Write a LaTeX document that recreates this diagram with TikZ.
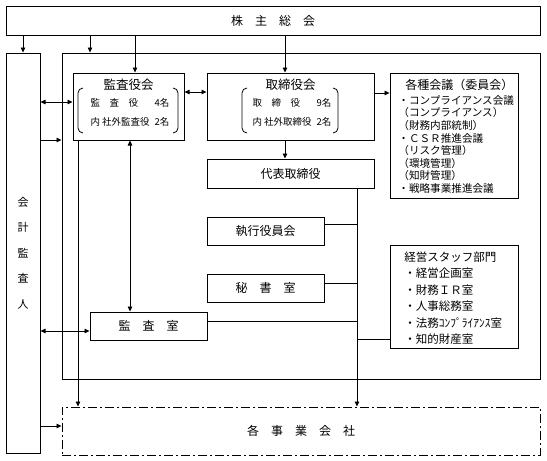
\documentclass[tikz,border=0pt]{standalone}
\usepackage{fontspec}
\setmainfont{Noto Sans CJK JP}
\usetikzlibrary{arrows.meta}
\newcommand{\kakko}[4]{%
  \draw[rounded corners=5pt] (#1+5,#3) -- (#1,#3) -- (#1,#4) -- (#1+5,#4);
  \draw[rounded corners=5pt] (#2-5,#3) -- (#2,#3) -- (#2,#4) -- (#2-5,#4);}
\begin{document}
\begin{tikzpicture}[x=1pt,y=-1pt,>={Triangle[length=5pt,width=4.5pt]},line width=0.8pt,
box/.style={draw,line width=1pt,inner sep=0pt,font=\fontsize{12}{14}\selectfont},
head/.style={inner sep=0pt,font=\fontsize{12.5}{15}\selectfont},
member/.style={inner sep=0pt,font=\fontsize{9.5}{19}\selectfont},
list/.style={inner sep=0pt,align=left,anchor=north west},
subsid/.style={dash pattern=on 9pt off 3pt on 2pt off 3pt}]
\useasboundingbox (0,0) rectangle (547,461);
\def\xtrunk{357};
\node[box,minimum width=534,minimum height=29] (kabunushi) at (273,20.5) {株　主　総　会};
\node[box,minimum width=34,minimum height=400,align=center,font=\fontsize{11}{25.5}\selectfont] (kaikei) at (23,253) {会\\計\\監\\査\\人};
\node[box,minimum width=478,minimum height=326] (group) at (301,216) {};
\node[box,minimum width=111,minimum height=67] (kansayaku) at (128.5,106.5) {};
\node[box,minimum width=167,minimum height=67] (torishimari) at (290.5,106.5) {};
\node[box,minimum width=128,minimum height=125] (kaigi) at (454,135.5) {};
\node[box,minimum width=167,minimum height=29] (daihyo) at (290.5,173.5) {代表取締役};
\node[box,minimum width=117,minimum height=28] (shikko) at (265.5,231) {執行役員会};
\node[box,minimum width=117,minimum height=28] (hisho) at (265.5,288) {秘　書　室};
\node[box,minimum width=117,minimum height=28] (kansashitsu) at (148.5,326) {監　査　室};
\node[box,minimum width=128,minimum height=103] (staff) at (454,296.5) {};
\node[box,subsid,minimum width=478,minimum height=48] (jigyo) at (301,431) {各　事　業　会　社};
\node[head] (kansayakuT) at (128.5,85) {監査役会};
\node[head] (torishimariT) at (290.5,85) {取締役会};
\node[member] (kansayakuM) at (130,112.5) {\begin{tabular}{@{}l@{\hspace{5pt}}r@{}}監　査　役 & 4名\\内 社外監査役 & 2名\end{tabular}};
\node[member] (torishimariM) at (292,112.5) {\begin{tabular}{@{}l@{\hspace{5pt}}r@{}}取　締　役 & 9名\\内 社外取締役 & 2名\end{tabular}};
\kakko{78}{178}{88}{133}
\kakko{242}{338}{88}{133}
\node[head,anchor=west,font=\fontsize{12}{14}\selectfont] (kaigiT) at (405,85) {各種会議（委員会）};
\node[list,font=\fontsize{10.6}{12.6}\selectfont] (kaigiL) at (398,95) {・コンプライアンス会議\\（コンプライアンス）\\（財務内部統制）\\・ＣＳＲ推進会議\\（リスク管理）\\（環境管理）\\（知財管理）\\・戦略事業推進会議};
\node[list,font=\fontsize{11.5}{16.5}\selectfont] (staffL) at (404,251) {経営スタッフ部門\\・経営企画室\\・財務ＩＲ室\\・人事総務室\\・法務ｺﾝﾌﾟﾗｲｱﾝｽ室\\・知的財産室};
\coordinate (bShikko) at (\xtrunk,224);
\coordinate (bHisho) at (\xtrunk,283);
\coordinate (bKansa) at (\xtrunk,321);
\coordinate (bStaff) at (\xtrunk,339);
\draw[->] (kaikei.north |- kabunushi.south) -- (kaikei.north);
\draw[->] (90,0 |- kabunushi.south) -- (90,0 |- group.north);
\draw[->] (135,0 |- kabunushi.south) -- (135,0 |- kansayaku.north);
\draw[->] (285,0 |- kabunushi.south) -- (285,0 |- torishimari.north);
\draw[<->] (kansayaku.east |- 0,92) -- (torishimari.west |- 0,92);
\draw[->] (torishimari.east |- 0,93) -- (kaigi.west |- 0,93);
\draw[->] (285,0 |- torishimari.south) -- (285,0 |- daihyo.north);
\draw[<->] (kaikei.east |- 0,102) -- (kansayaku.west |- 0,102);
\draw[->] (kaikei.east |- 0,140) -- (group.west |- 0,140);
\draw[<->] (kaikei.east |- 0,331) -- (kansashitsu.west |- 0,331);
\draw[->] (kaikei.east |- 0,426) -- (jigyo.west |- 0,426);
\draw[<->] (130,0 |- kansayaku.south) -- (130,0 |- kansashitsu.north);
\draw[->] (78,0 |- kansayaku.south) -- (78,0 |- jigyo.north);
\draw[->] (\xtrunk,0 |- daihyo.south) -- (\xtrunk,0 |- jigyo.north);
\draw (shikko.east |- bShikko) -- (bShikko);
\draw (hisho.east |- bHisho) -- (bHisho);
\draw (kansashitsu.east |- bKansa) -- (bKansa);
\draw (staff.west |- bStaff) -- (bStaff);
\end{tikzpicture}
\end{document}
